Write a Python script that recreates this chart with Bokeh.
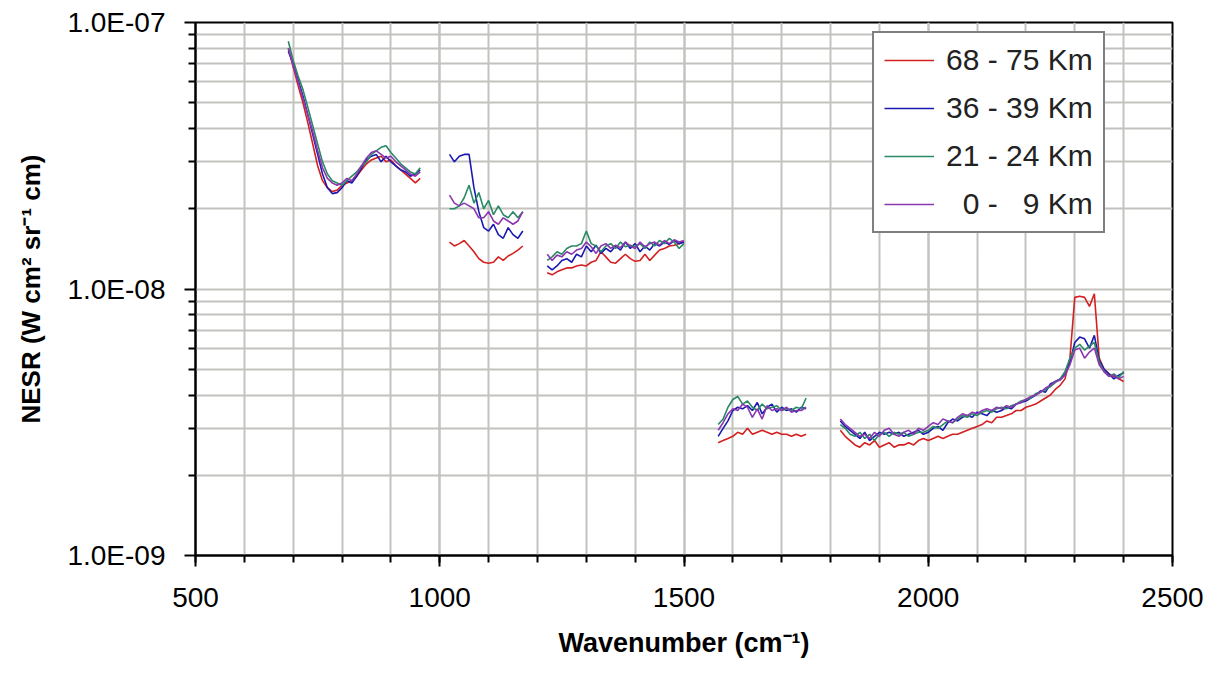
import math
from bokeh.plotting import figure
from bokeh.models import FixedTicker, CustomJSTickFormatter
from bokeh.embed import file_html
from bokeh.resources import INLINE

# Wavenumber samples of the five spectral bands (cm^-1)
wn_band1 = list(range(690, 961, 10))
wn_band2 = list(range(1020, 1171, 10))
wn_band3 = list(range(1220, 1501, 10))
wn_band4 = list(range(1570, 1751, 10))
wn_band5 = list(range(1820, 2401, 10))

# NESR values in units of 1e-9 W cm^-2 sr^-1 cm, bands concatenated in order
nesr_68_75 = [
    80, 68, 58, 50, 42, 35, 29, 25.5, 24, 23.2, 23.5, 24.5, 25, 25.5, 26.5, 28, 29.5, 30.5, 31, 31.5, 30, 30.5, 29, 28, 27, 26, 25, 26,
    15, 14.5, 14.8, 15.2, 14.5, 13.8, 13, 12.6, 12.5, 12.6, 13.2, 12.8, 13.3, 13.6, 14, 14.5,
    11.5, 11.3, 11.6, 11.8, 12, 12, 12.2, 12.3, 12.2, 12.6, 12.8, 13.8, 13.2, 12.6, 12.5, 13, 13.5, 13, 12.7, 12.8, 13.5, 12.8, 13.4, 14, 14.2, 14.5, 14.6, 14.8, 15,
    2.65, 2.7, 2.75, 2.8, 2.9, 2.85, 3.0, 2.85, 2.9, 2.95, 2.9, 2.85, 2.9, 2.85, 2.85, 2.8, 2.85, 2.8, 2.85,
    2.95, 2.8, 2.7, 2.6, 2.55, 2.65, 2.6, 2.7, 2.55, 2.6,
    2.65, 2.55, 2.6, 2.6, 2.65, 2.6, 2.7, 2.75, 2.7, 2.75,
    2.8, 2.75, 2.8, 2.85, 2.85, 2.9, 2.95, 3.0, 3.05, 3.1,
    3.2, 3.15, 3.3, 3.3, 3.35, 3.4, 3.5, 3.5, 3.6, 3.65,
    3.7, 3.8, 3.9, 4.0, 4.2, 4.35, 4.6, 5.5, 9.3, 9.4,
    9.3, 8.6, 9.6, 5.5, 5.0, 4.8, 4.7, 4.6, 4.5,
]
nesr_36_39 = [
    78, 70, 61, 53, 45, 38, 32, 27, 24, 22.8, 23, 24, 25.5, 25, 26.5, 28.5, 30.5, 31.5, 32, 30, 31.5, 30, 29, 28, 27.5, 26.5, 27, 28,
    32, 30, 31.5, 32, 32, 24, 19.5, 17, 16.5, 17.5, 16, 15.5, 17, 16, 15.5, 16.5,
    12.2, 11.8, 12.2, 12.8, 13, 12.6, 13.5, 13.2, 14.5, 13.8, 14.6, 13.6, 14.2, 13.8, 14.5, 14, 15, 14.2, 14.8, 13.8, 14.5, 14, 14.8, 14.5, 15, 14.7, 15.2, 14.8, 15,
    2.8, 3.0, 3.2, 3.5, 3.6, 3.55, 3.65, 3.5, 3.75, 3.4, 3.6, 3.7, 3.45, 3.6, 3.5, 3.55, 3.45, 3.6, 3.55,
    3.2, 3.05, 2.95, 2.85, 2.75, 2.9, 2.7, 2.8, 2.9, 2.85,
    2.9, 2.85, 2.9, 2.8, 2.85, 2.9, 2.95, 2.85, 2.9, 3.0,
    3.05, 2.95, 3.15, 3.25, 3.2, 3.3, 3.35, 3.3, 3.45, 3.4,
    3.35, 3.5, 3.45, 3.5, 3.6, 3.55, 3.7, 3.75, 3.8, 3.9,
    4.0, 4.15, 4.1, 4.4, 4.5, 4.6, 4.8, 5.3, 6.3, 6.6,
    6.5, 6.0, 6.7, 5.4, 5.0, 4.8, 4.6, 4.75, 4.85,
]
nesr_21_24 = [
    85, 72, 63, 56, 48, 41, 35, 30, 27, 25.5, 25, 24.5, 25.5, 26.5, 27.5, 29, 30, 32, 33, 34, 34.5, 32.5, 31, 29.5, 28.5, 27.5, 27, 28.5,
    20, 20, 20.5, 22, 24.5, 21, 23, 20, 21.5, 19, 20.5, 19, 18.5, 19.5, 18.5, 19.5,
    12.8, 13.2, 13.8, 13.5, 14.2, 14.5, 14.5, 14.8, 16.5, 14.8, 14.5, 13.8, 14.5, 14.8, 14.2, 15, 14.4, 14.6, 14.4, 14.8, 14.2, 15, 14.5, 15.2, 14.8, 15.5, 15, 14.2, 14.8,
    3.1, 3.25, 3.6, 3.85, 3.95, 3.7, 3.8, 3.6, 3.5, 3.7, 3.55, 3.6, 3.65, 3.5, 3.55, 3.5, 3.6, 3.55, 3.9,
    3.1, 3.0, 2.85, 2.8, 2.9, 2.75, 2.85, 2.7, 2.85, 2.9,
    2.8, 2.9, 2.85, 2.9, 2.8, 2.85, 2.9, 2.9, 2.95, 3.05,
    3.0, 3.1, 3.2, 3.15, 3.25, 3.35, 3.3, 3.4, 3.35, 3.45,
    3.5, 3.45, 3.55, 3.6, 3.55, 3.65, 3.7, 3.8, 3.85, 3.9,
    4.05, 4.1, 4.2, 4.3, 4.45, 4.6, 4.9, 5.5, 6.0, 6.2,
    5.9, 6.1, 6.3, 5.3, 4.9, 4.7, 4.8, 4.65, 4.9,
]
nesr_0_9 = [
    80, 69, 60, 52, 45, 39, 33, 28.5, 26, 25, 24.5, 25, 26, 25.5, 27, 29, 31, 32.5, 33, 32, 31, 31.5, 30, 29, 28, 27, 26.5, 27.5,
    22.5, 21, 20.5, 21, 20.5, 20, 18.5, 18.5, 19.5, 18, 17.5, 18.5, 18, 17.5, 18, 19.5,
    13.5, 12.8, 13.4, 13.2, 13.8, 13.5, 14, 14.2, 15, 14.4, 13.6, 14.5, 14.8, 14.2, 14.6, 14.3, 15, 14.5, 14.2, 15, 14.4, 14.8, 15, 14.6, 15.2, 14.8, 15.3, 15, 15.2,
    2.95, 3.15, 3.4, 3.55, 3.5, 3.7, 3.6, 3.3, 3.55, 3.25, 3.65, 3.5, 3.55, 3.5, 3.6, 3.45, 3.5, 3.5, 3.6,
    3.25, 3.1, 3.0, 2.9, 2.8, 2.85, 2.75, 2.9, 2.8, 2.95,
    3.0, 2.85, 2.8, 2.9, 2.95, 2.85, 3.0, 2.95, 3.05, 3.15,
    3.1, 3.25, 3.2, 3.15, 3.3, 3.4, 3.35, 3.45, 3.4, 3.5,
    3.55, 3.5, 3.6, 3.55, 3.65, 3.6, 3.7, 3.75, 3.85, 3.95,
    4.0, 4.1, 4.25, 4.35, 4.5, 4.55, 4.75, 5.2, 5.9, 6.0,
    5.5, 5.8, 6.0, 5.2, 4.9, 4.7, 4.75, 4.6, 4.7,
]

series_labels = ["68 - 75 Km", "36 - 39 Km", "21 - 24 Km", "\u20070 - \u20079 Km"]
series_colors = ["#d42020", "#1a1ab0", "#2a8a66", "#8a38b0"]
series_values = [nesr_68_75, nesr_36_39, nesr_21_24, nesr_0_9]

y_major = [1e-9, 1e-8, 1e-7]
y_minor = [k * 10.0 ** d for d in (-9, -8) for k in range(2, 10)]
x_major = [500, 1000, 1500, 2000, 2500]
x_minor = list(range(500, 2501, 100))

bands = [wn_band1, wn_band2, wn_band3, wn_band4, wn_band5]
UNIT = 1e-9


def with_gaps(values):
    xs, ys = [], []
    i = 0
    for band in bands:
        n = len(band)
        xs += band + [math.nan]
        ys += [v * UNIT for v in values[i:i + n]] + [math.nan]
        i += n
    assert i == len(values)
    return xs, ys


FONT = "Liberation Sans"

p = figure(width=1210, height=672, output_backend="svg", toolbar_location=None,
           y_axis_type="log", x_range=(500, 2500), y_range=(1e-9, 1e-7),
           min_border_left=195, min_border_right=38, min_border_top=22, min_border_bottom=117)
p.background_fill_color = "white"
p.border_fill_color = "white"
p.outline_line_color = "black"
p.outline_line_width = 2

for vals, lab, col in zip(series_values, series_labels, series_colors):
    xs, ys = with_gaps(vals)
    p.line(xs, ys, line_color=col, line_width=1.6, legend_label=lab)

# axes
p.xaxis.ticker = FixedTicker(ticks=x_major, minor_ticks=x_minor)
p.yaxis.ticker = FixedTicker(ticks=y_major, minor_ticks=y_minor)
p.yaxis.formatter = CustomJSTickFormatter(code="""
const e = Math.round(Math.log10(tick));
const m = tick / Math.pow(10, e);
const a = Math.abs(e);
return m.toFixed(1) + 'E' + (e < 0 ? '-' : '+') + (a < 10 ? '0' : '') + a;
""")
for ax in (p.xaxis[0], p.yaxis[0]):
    ax.axis_line_color = "black"
    ax.axis_line_width = 2
    ax.major_tick_line_color = "black"
    ax.major_tick_line_width = 2
    ax.minor_tick_line_color = "black"
    ax.minor_tick_line_width = 2
    ax.major_tick_in = 0
    ax.minor_tick_in = 0
    ax.major_tick_out = 11
    ax.minor_tick_out = 7
    ax.major_label_text_font = FONT
    ax.major_label_text_font_size = "28px"
    ax.major_label_text_color = "black"
    ax.axis_label_text_font = FONT
    ax.axis_label_text_font_style = "bold"
    ax.axis_label_text_color = "black"

p.xaxis.axis_label = "Wavenumber (cm\u207b\u00b9)"
p.xaxis.axis_label_text_font_size = "27px"
p.xaxis.major_label_standoff = 21
p.xaxis.axis_label_standoff = 18
p.yaxis.axis_label = "NESR (W cm\u00b2 sr\u207b\u00b9 cm)"
p.yaxis.axis_label_text_font_size = "26px"
p.yaxis.major_label_standoff = 19
p.yaxis.axis_label_standoff = 18

# grid
for g in (p.xgrid[0], p.ygrid[0]):
    g.grid_line_color = "#c2c2be"
    g.grid_line_width = 2
    g.minor_grid_line_color = "#c2c2be"
    g.minor_grid_line_width = 2

# legend
lg = p.legend[0]
lg.location = (677, 322)
lg.border_line_color = "black"
lg.border_line_width = 2
lg.background_fill_color = "white"
lg.background_fill_alpha = 1.0
lg.label_text_font = FONT
lg.label_text_font_size = "30px"
lg.label_text_color = "#222222"
lg.glyph_width = 50
lg.glyph_height = 34
lg.label_height = 34
lg.label_standoff = 12
lg.spacing = 14
lg.padding = 10
lg.margin = 0

open("out.html", "w").write(file_html(p, INLINE))
